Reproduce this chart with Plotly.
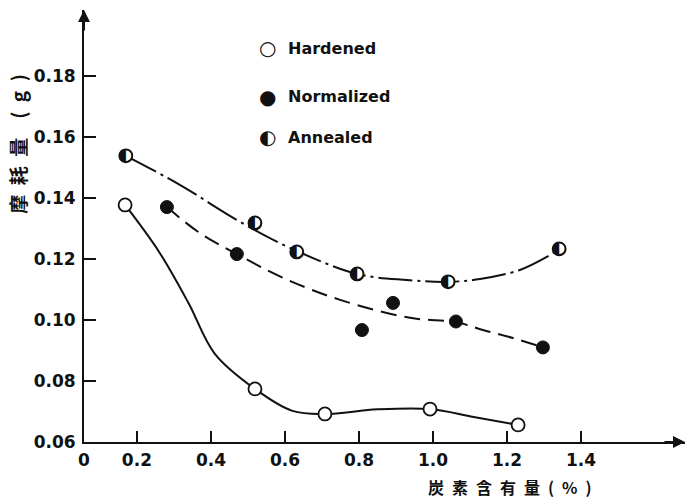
import plotly.graph_objects as go

# ---- data ----
hard_x = [0.168, 0.519, 0.708, 0.992, 1.230]
hard_y = [0.1377, 0.0774, 0.0692, 0.0708, 0.0656]
norm_x = [0.281, 0.470, 0.808, 0.892, 1.062, 1.297]
norm_y = [0.1370, 0.1216, 0.0967, 0.1056, 0.0995, 0.0910]
ann_x = [0.170, 0.519, 0.632, 0.795, 1.041, 1.341]
ann_y = [0.1538, 0.1318, 0.1223, 0.1151, 0.1125, 0.1233]

# smooth fitted curves
hard_cx = [0.168, 0.26, 0.34, 0.41, 0.519, 0.62, 0.708, 0.85, 0.992, 1.11, 1.230]
hard_cy = [0.1377, 0.1223, 0.1054, 0.0890, 0.0774, 0.0702, 0.0692, 0.0707, 0.0708, 0.0682, 0.0656]
norm_cx = [0.281, 0.370, 0.470, 0.595, 0.749, 0.938, 1.062, 1.135, 1.216, 1.297]
norm_cy = [0.1370, 0.1285, 0.1216, 0.1138, 0.1066, 0.1007, 0.0993, 0.0967, 0.0941, 0.0910]
ann_cx = [0.170, 0.316, 0.470, 0.614, 0.795, 0.930, 1.041, 1.127, 1.235, 1.308, 1.341]
ann_cy = [0.1538, 0.1443, 0.1328, 0.1236, 0.1151, 0.1131, 0.1125, 0.1134, 0.1164, 0.1207, 0.1233]

x_tickvals = [0.057, 0.2, 0.4, 0.6, 0.8, 1.0, 1.2, 1.4]
x_ticktext = ["0", "0.2", "0.4", "0.6", "0.8", "1.0", "1.2", "1.4"]
y_tickvals = [0.06, 0.08, 0.10, 0.12, 0.14, 0.16, 0.18]
y_ticktext = ["0.06", "0.08", "0.10", "0.12", "0.14", "0.16", "0.18"]

legend_names = ["Hardened", "Normalized", "Annealed"]
legend_glyphs = ["○", "●", "◐"]

SP = "\u2002"
x_title = SP.join(["炭", "素", "含", "有", "量", "(", "%", ")"])
y_title = SP.join(["摩", "耗", "量", "", "(", "g", ")"])

BLACK = "#111111"
fig = go.Figure()

fig.add_trace(go.Scatter(x=hard_cx, y=hard_cy, mode="lines",
                         line=dict(color=BLACK, width=2, shape="spline", smoothing=1.0)))
fig.add_trace(go.Scatter(x=norm_cx, y=norm_cy, mode="lines",
                         line=dict(color=BLACK, width=2, shape="spline", smoothing=1.0, dash="16px,8px")))
fig.add_trace(go.Scatter(x=ann_cx, y=ann_cy, mode="lines",
                         line=dict(color=BLACK, width=2, shape="spline", smoothing=1.0,
                                   dash="34px,5px,3px,5px")))

fig.add_trace(go.Scatter(x=hard_x, y=hard_y, mode="markers",
                         marker=dict(symbol="circle", size=13, color="white",
                                     line=dict(color=BLACK, width=1.8))))
fig.add_trace(go.Scatter(x=norm_x, y=norm_y, mode="markers",
                         marker=dict(symbol="circle", size=13, color=BLACK,
                                     line=dict(color=BLACK, width=1))))
fig.add_trace(go.Scatter(x=ann_x, y=ann_y, mode="markers",
                         marker=dict(symbol="circle", size=13, color="white",
                                     line=dict(color=BLACK, width=1.8))))
fig.add_trace(go.Scatter(x=ann_x, y=ann_y, mode="text", text=["◐"] * len(ann_x),
                         textposition="middle center",
                         textfont=dict(family="DejaVu Sans", size=17, color=BLACK)))

tickfont = dict(family="DejaVu Sans", size=17, color=BLACK, weight="bold")
fig.update_xaxes(range=[0.057, 1.681], showgrid=False, zeroline=False,
                 showline=True, linecolor=BLACK, linewidth=2,
                 tickmode="array", tickvals=x_tickvals, ticktext=x_ticktext,
                 ticks="inside", ticklen=11, tickwidth=1.5, tickcolor=BLACK,
                 tickfont=tickfont, ticklabelstandoff=2)
fig.update_yaxes(range=[0.06, 0.2016], showgrid=False, zeroline=False,
                 showline=True, linecolor=BLACK, linewidth=2,
                 tickmode="array", tickvals=y_tickvals, ticktext=y_ticktext,
                 ticks="inside", ticklen=12, tickwidth=1.5, tickcolor=BLACK,
                 tickfont=tickfont, ticklabelstandoff=3)

annotations = []
leg_y = [0.912, 0.799, 0.706]
for g, name, yy in zip(legend_glyphs, legend_names, leg_y):
    annotations.append(dict(xref="paper", yref="paper", x=0.306, y=yy, text=g,
                            showarrow=False, xanchor="center", yanchor="middle",
                            font=dict(family="DejaVu Sans", size=20, color=BLACK)))
    annotations.append(dict(xref="paper", yref="paper", x=0.336, y=yy, text=name,
                            showarrow=False, xanchor="left", yanchor="middle",
                            font=dict(family="DejaVu Sans", size=16, color=BLACK, weight="bold")))
annotations.append(dict(xref="paper", yref="paper", x=0.709, y=-0.104, text=x_title,
                        showarrow=False, xanchor="center", yanchor="middle",
                        font=dict(family="Noto Sans CJK JP", size=16, color=BLACK, weight="bold")))
annotations.append(dict(xref="paper", yref="paper", x=-0.11, y=0.69, text=y_title,
                        showarrow=False, xanchor="center", yanchor="middle", textangle=-90,
                        font=dict(family="Noto Sans CJK JP", size=19, color=BLACK, weight="bold")))
# axis arrows
annotations.append(dict(xref="paper", yref="paper", x=1.0, y=0.0, ax=-22, ay=0, text="",
                        showarrow=True, arrowhead=2, arrowsize=1.2, arrowwidth=2, arrowcolor=BLACK))
annotations.append(dict(xref="paper", yref="paper", x=0.0, y=1.0, ax=0, ay=22, text="",
                        showarrow=True, arrowhead=2, arrowsize=1.2, arrowwidth=2, arrowcolor=BLACK))

fig.update_layout(width=687, height=502, margin=dict(l=84, r=2, t=10, b=60),
                  plot_bgcolor="white", paper_bgcolor="white", showlegend=False,
                  annotations=annotations)

fig.write_html("out.html")
